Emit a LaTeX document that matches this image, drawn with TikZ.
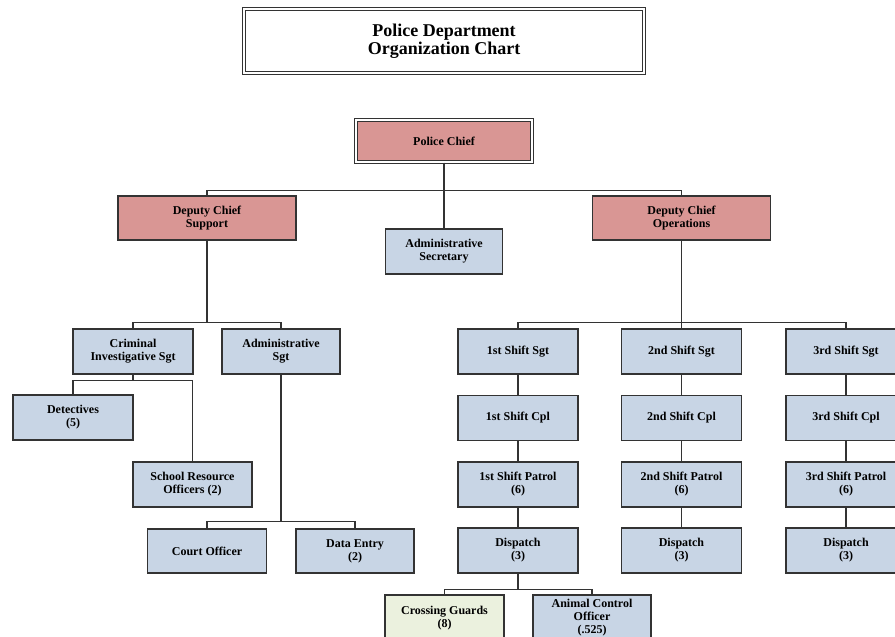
\documentclass[tikz,border=0pt]{standalone}
\usepackage{fontspec}
\setmainfont{Liberation Serif}
\usetikzlibrary{positioning,calc}

\definecolor{bluefill}{HTML}{C8D5E5}
\definecolor{redfill}{HTML}{D99694}
\definecolor{greenfill}{HTML}{EBF1DE}
\definecolor{edge}{HTML}{333333}

\tikzset{
  box/.style={draw=edge, line width=1.2pt, fill=bluefill, minimum width=119pt, minimum height=45pt,
    inner sep=1pt, align=center, font=\fontsize{12}{13}\selectfont\bfseries},
  chiefbox/.style={box, fill=redfill, minimum width=178pt, minimum height=44pt},
  guardbox/.style={box, fill=greenfill},
  wire/.style={draw=edge, line width=1.2pt},
}

\begin{document}
\begin{tikzpicture}[x=1pt, y=-1pt]
\useasboundingbox (0,0) rectangle (895,637);

% Title
\node[draw=edge, double, line width=1pt, double distance=1.6pt, minimum width=400pt, minimum height=64pt,
  align=center, font=\fontsize{18}{18.5}\selectfont\bfseries] (title) at (444,41) {Police Department\\Organization Chart};

% Top level
\node[chiefbox, draw=edge, double, line width=1pt, double distance=1.4pt, minimum width=176pt, minimum height=42pt] (chief) at (444,141) {Police Chief};
\node[chiefbox] (dcsup) at (207,218) {Deputy Chief\\Support};
\node[chiefbox] (dcops) at (681.5,218) {Deputy Chief\\Operations};
\node[box, minimum width=117pt] (secr) at (444,251.5) {Administrative\\Secretary};

\draw[wire] (chief) -- (secr);
\draw[wire] (dcsup.north) -- ++(0,-5) -| (dcops.north);

% Support side
\node[box, minimum width=120pt] (cisgt) at (133,351.5) {Criminal\\Investigative Sgt};
\node[box, minimum width=118pt] (adsgt) at (281,351.5) {Administrative\\Sgt};
\node[box, minimum width=120pt] (detect) at (73,417.5) {Detectives\\(5)};
\node[box] (sro) at (192.5,484.5) {School Resource\\Officers (2)};
\node[box, minimum height=44pt] (court) at (207,551) {Court Officer};
\node[box, minimum width=118pt, minimum height=44pt] (dataent) at (355,551) {Data Entry\\(2)};

\draw[wire] (cisgt.north) -- ++(0,-6) coordinate (busA) -| (adsgt.north);
\draw[wire] (dcsup) -- (dcsup.south |- busA);
\draw[wire] (cisgt.south) -- ++(0,6) coordinate (busB);
\draw[wire] (detect.north) |- (busB) -| (sro.north);
\draw[wire] (court.north) -- ++(0,-7) coordinate (busC) -| (dataent.north);
\draw[wire] (adsgt) -- (adsgt.south |- busC);

% Operations side, one column per shift
\foreach \i/\x/\ord in {1/518/1st, 2/681.5/2nd, 3/846/3rd} {
  \node[box, minimum width=120pt] (sgt\i) at (\x,351.5) {\ord\ Shift Sgt};
  \node[box, minimum width=120pt] (cpl\i) at (\x,418) {\ord\ Shift Cpl};
  \node[box, minimum width=120pt] (pat\i) at (\x,484.5) {\ord\ Shift Patrol\\(6)};
  \node[box, minimum width=120pt] (disp\i) at (\x,550.5) {Dispatch\\(3)};
  \draw[wire] (sgt\i) -- (cpl\i) -- (pat\i) -- (disp\i);
}
\draw[wire] (sgt1.north) -- ++(0,-6) -| (sgt3.north);
\draw[wire] (dcops) -- (sgt2);

% Under 1st shift dispatch
\node[guardbox, minimum height=46pt] (guards) at (444.5,618) {Crossing Guards\\(8)};
\node[box, minimum width=118pt, minimum height=46pt] (animal) at (592,618) {Animal Control\\Officer\\(.525)};
\draw[wire] (guards.north) -- ++(0,-5) coordinate (busD) -| (animal.north);
\draw[wire] (disp1) -- (disp1.south |- busD);
\end{tikzpicture}
\end{document}
